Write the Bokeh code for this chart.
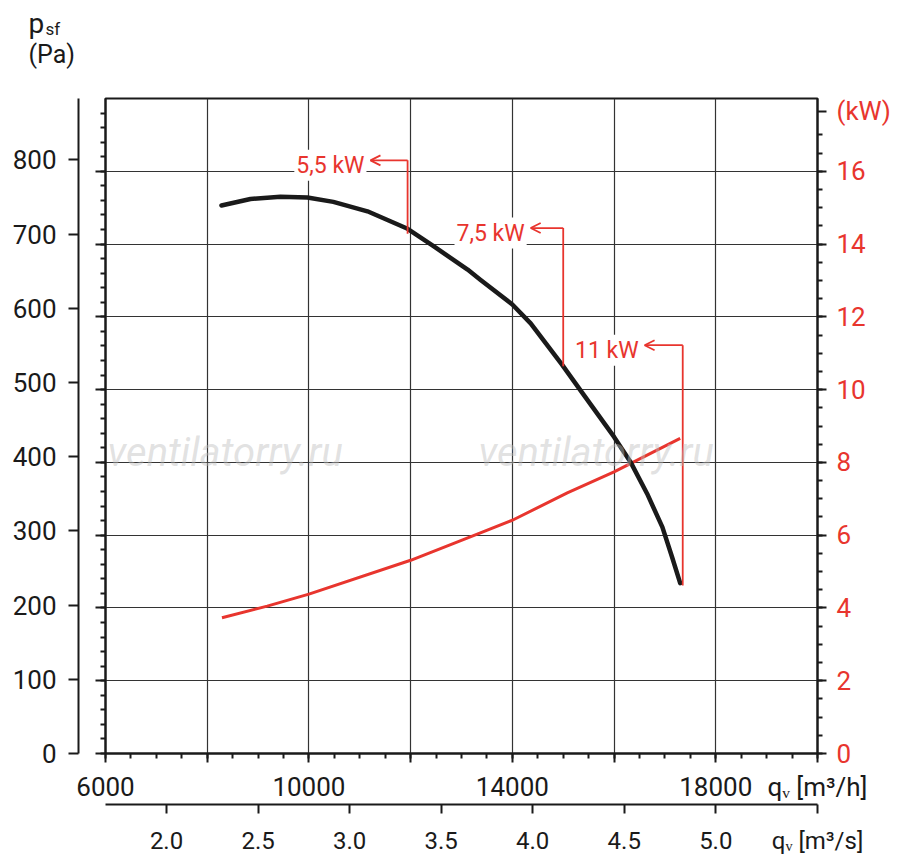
from bokeh.plotting import figure
from bokeh.models import (Range1d, LinearAxis, FixedTicker, Label, Arrow, OpenHead,
                          ColumnDataSource, PrintfTickFormatter)
from bokeh.embed import file_html
from bokeh.resources import INLINE

RED = "#e8352e"
INK = "#1a1a1a"
FONT = "Roboto"

# ---- data ----
flow_pressure = [8280, 8850, 9440, 9970, 10480, 11150, 11940, 12450, 13120, 13370,
                 14000, 14360, 14980, 15340, 15670, 16000, 16320, 16650, 16950, 17140, 17300]
pressure = [753, 762, 765, 764, 758, 745, 721, 697, 665, 651,
            617, 591, 534, 499, 467, 435, 401, 357, 311, 270, 234]

flow_power = [8290, 9180, 10000, 12000, 13310, 14000, 15080, 16000, 17300]
power = [3.73, 4.05, 4.38, 5.31, 6.03, 6.41, 7.16, 7.74, 8.66]

motor_labels = ["5,5 kW", "7,5 kW", "11 kW"]
motor_flow = [11940, 15000, 17350]
motor_p_low = [714, 532, 231]
motor_p_high = [815, 722, 561]
arrow_flow = [11210, 14360, 16600]

x_major = list(range(6000, 20001, 2000))
x_minor = list(range(6000, 20001, 500))
x_labelled = [6000, 10000, 14000, 18000]
x_title = "qᵥ [m³/h]"
ms_ticks = [2.0, 2.5, 3.0, 3.5, 4.0, 4.5, 5.0]
ms_title = "qᵥ [m³/s]"
pa_major = list(range(0, 801, 100))
pa_minor = list(range(0, 881, 20))
kw_major = list(range(0, 17, 2))
kw_minor = [i * 0.5 for i in range(0, 35)]
kw_title = "(kW)"
kw_title_at = 17.65

watermark = "ventilatorry.ru"

X_END = 20000
MS_END = X_END / 3600

# ---- figure ----
p = figure(frame_width=712, frame_height=655,
           x_range=Range1d(6000, X_END), y_range=Range1d(0, 900),
           output_backend="svg", toolbar_location=None,
           min_border_left=105, min_border_top=98, min_border_right=80, min_border_bottom=110)
p.extra_x_ranges = {"ms": Range1d(6000 / 3600, MS_END)}
p.extra_y_ranges = {"kw": Range1d(0, 18), "outer": Range1d(0, 882.7)}

p.background_fill_color = "white"
p.border_fill_color = "white"
p.outline_line_color = INK
p.outline_line_width = 2

p.xgrid.ticker = FixedTicker(ticks=x_major)
p.ygrid.ticker = FixedTicker(ticks=pa_major)
for g in (p.xgrid, p.ygrid):
    g.grid_line_color = "#333333"
    g.grid_line_width = 1.2


def style_axis(ax, size="26px"):
    ax.axis_line_color = INK
    ax.axis_line_width = 2
    ax.major_tick_line_color = INK
    ax.major_tick_line_width = 2
    ax.minor_tick_line_color = INK
    ax.minor_tick_line_width = 2
    ax.major_tick_in = 0
    ax.minor_tick_in = 0
    ax.major_label_text_font = FONT
    ax.major_label_text_font_size = size
    ax.major_label_text_color = INK


# bottom inner axis (m3/h); its last tick carries the unit text
xa = p.xaxis[0]
xa.ticker = FixedTicker(ticks=x_major, minor_ticks=x_minor)
style_axis(xa)
xa.major_tick_out = 9
xa.minor_tick_out = 5
xa.major_label_standoff = 9
overrides = {v: "" for v in x_major if v not in x_labelled}
overrides[X_END] = x_title
xa.major_label_overrides = overrides

# bottom outer axis (m3/s)
xs = LinearAxis(x_range_name="ms", ticker=FixedTicker(ticks=ms_ticks + [MS_END], minor_ticks=[]),
                formatter=PrintfTickFormatter(format="%.1f"))
style_axis(xs, "24px")
xs.major_tick_out = 9
xs.major_label_standoff = 13
xs.major_label_overrides = {MS_END: ms_title}
p.add_layout(xs, "below")

# left inner axis (minor ticks on frame)
ya = p.yaxis[0]
ya.ticker = FixedTicker(ticks=pa_major, minor_ticks=pa_minor)
style_axis(ya)
ya.major_tick_out = 10
ya.minor_tick_out = 5
ya.major_label_standoff = 0
ya.major_label_overrides = {v: "" for v in pa_major}
ya.axis_label = " "
ya.axis_label_text_font_size = "12px"
ya.axis_label_standoff = 0

# left outer axis (labels)
yo = LinearAxis(y_range_name="outer", ticker=FixedTicker(ticks=pa_major, minor_ticks=[]))
style_axis(yo)
yo.major_tick_out = 10
yo.major_label_standoff = 12
p.add_layout(yo, "left")

# right axis (kW)
yr = LinearAxis(y_range_name="kw",
                ticker=FixedTicker(ticks=kw_major + [kw_title_at], minor_ticks=kw_minor))
style_axis(yr)
yr.major_tick_out = 9
yr.minor_tick_out = 5
yr.major_label_standoff = 10
yr.major_label_text_color = RED
yr.major_label_overrides = {kw_title_at: kw_title}
p.add_layout(yr, "right")

# ---- watermark ----
for wx in (6040, 13334):
    p.add_layout(Label(x=wx, y=413, text=watermark, text_font=FONT, text_font_size="40px",
                       text_font_style="italic", text_color="#bdbdbd", text_alpha=0.45,
                       text_baseline="alphabetic", text_align="left"))

# ---- curves ----
p.line(flow_power, power, y_range_name="kw", line_color=RED, line_width=3, line_join="round")
p.line(flow_pressure, pressure, line_color=INK, line_width=4.5, line_cap="round",
       line_join="round")

# ---- motor markers ----
msrc = ColumnDataSource(dict(q=motor_flow, lo=motor_p_low, hi=motor_p_high, qa=arrow_flow))
p.segment(x0="q", y0="lo", x1="q", y1="hi", source=msrc, line_color=RED, line_width=1.8)
p.add_layout(Arrow(end=OpenHead(size=10, line_color=RED, line_width=1.8),
                   x_start="q", y_start="hi", x_end="qa", y_end="hi", source=msrc,
                   line_color=RED, line_width=1.8))
for lab, qa, hi in zip(motor_labels, arrow_flow, motor_p_high):
    p.add_layout(Label(x=qa, y=hi, text=lab, x_offset=-4, y_offset=-5,
                       text_align="right", text_baseline="middle",
                       text_font=FONT, text_font_size="23px", text_color=RED,
                       background_fill_color="white", padding=2))

# ---- pressure axis title (above panel, so it is not clipped) ----
for lab in (Label(x=4486, y=1003, text="p", text_font=FONT, text_font_size="28px",
                  text_color=INK, text_baseline="alphabetic"),
            Label(x=4820, y=995, text="sf", text_font=FONT, text_font_size="17px",
                  text_color=INK, text_baseline="alphabetic"),
            Label(x=4486, y=960, text="(Pa)", text_font=FONT, text_font_size="25px",
                  text_color=INK, text_baseline="alphabetic")):
    p.add_layout(lab, "above")

open("out.html", "w").write(file_html(p, INLINE))
